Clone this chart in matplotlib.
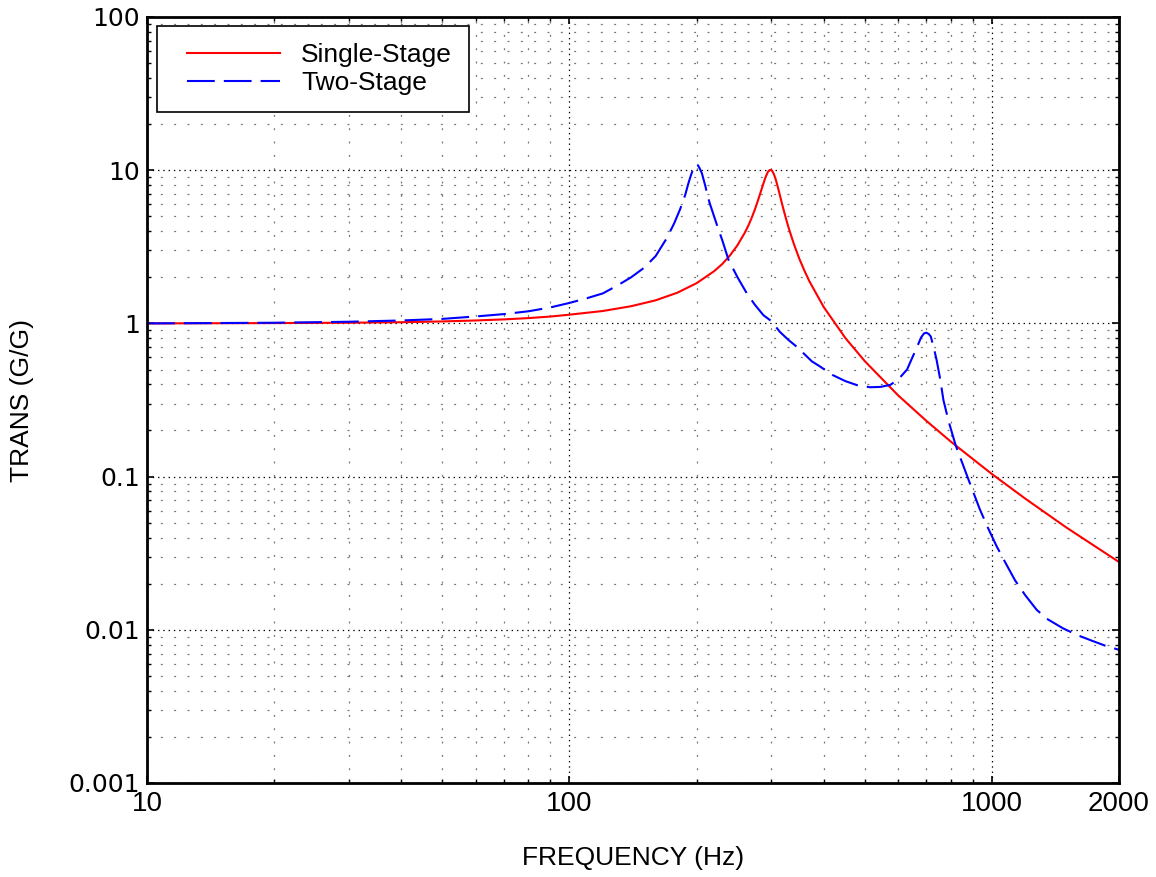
import matplotlib
matplotlib.use("Agg")
import matplotlib.pyplot as plt
from matplotlib.ticker import LogLocator, NullFormatter, FixedLocator, FixedFormatter
from matplotlib.legend_handler import HandlerLine2D
from matplotlib.lines import Line2D

# ---- data ----
freq_single = [10, 20, 30, 40, 50, 60, 70, 80, 90, 100, 120, 140, 160, 180, 200,
               220, 230, 240, 250, 260, 265, 270, 275, 280, 285, 290, 292, 295,
               298, 300, 302, 305, 308, 310, 312, 315, 320, 325, 330, 340, 350,
               360, 370, 400, 450, 500, 600, 700, 800, 1000, 1200, 1500, 2000]
trans_single = [1.00, 1.005, 1.01, 1.018, 1.03, 1.045, 1.062, 1.083, 1.108, 1.14,
                1.205, 1.295, 1.415, 1.585, 1.83, 2.19, 2.44, 2.78, 3.24, 3.90,
                4.33, 4.88, 5.57, 6.45, 7.50, 8.70, 9.15, 9.75, 10.03, 10.05,
                9.90, 9.39, 8.67, 8.14, 7.61, 6.85, 5.77, 4.92, 4.24, 3.29, 2.65,
                2.21, 1.88, 1.278, 0.803, 0.568, 0.339, 0.231, 0.169, 0.104,
                0.0718, 0.0466, 0.0277]

freq_two = [10, 20, 30, 40, 50, 60, 70, 80, 90, 100, 110, 120, 130, 140, 150, 160,
            170, 177, 183, 188, 191, 194, 197, 199, 200, 201, 203, 206, 208, 210,
            212, 215, 220, 225, 230, 238, 250, 263, 275, 288, 300, 315, 330, 345,
            360, 375, 390, 420, 450, 480, 515, 545, 575, 600, 630, 645, 665, 680,
            691, 700, 710, 717, 730, 740, 755, 768, 790, 821, 850, 880, 937, 980,
            1027, 1080, 1134, 1200, 1277, 1350, 1476, 1600, 1723, 1850, 2000]
trans_two = [1.00, 1.01, 1.025, 1.045, 1.07, 1.11, 1.15, 1.20, 1.27, 1.36, 1.46,
             1.57, 1.77, 2.0, 2.3, 2.75, 3.6, 4.5, 5.6, 6.9, 8.1, 9.3, 10.4,
             10.85, 10.95, 10.85, 10.4, 9.5, 8.6, 7.8, 6.9, 6.05, 5.0, 4.15, 3.5,
             2.6, 2.0, 1.57, 1.32, 1.13, 1.04, 0.88, 0.78, 0.705, 0.63, 0.565,
             0.528, 0.46, 0.42, 0.395, 0.383, 0.385, 0.397, 0.43, 0.50, 0.58,
             0.70, 0.81, 0.86, 0.87, 0.85, 0.82, 0.68, 0.577, 0.43, 0.316, 0.23,
             0.16, 0.124, 0.096, 0.061, 0.046, 0.035, 0.027, 0.0211, 0.0168,
             0.0135, 0.0118, 0.0102, 0.0092, 0.0085, 0.0079, 0.0074]

x_ticks = [10, 100, 1000, 2000]
x_tick_labels = ["10", "100", "1000", "2000"]
y_ticks = [0.001, 0.01, 0.1, 1, 10, 100]
y_tick_labels = ["0.001", "0.01", "0.1", "1", "10", "100"]
series_labels = ["Single-Stage", "Two-Stage"]

plt.rcParams["lines.scale_dashes"] = False
plt.rcParams["font.family"] = ["Liberation Sans", "DejaVu Sans"]

W, H = 1156, 877
fig = plt.figure(figsize=(W / 100, H / 100), dpi=100)
L, R, T, B = 147, 1119, 17, 783
ax = fig.add_axes([L / W, 1 - B / H, (R - L) / W, (B - T) / H])

ax.set_xscale("log")
ax.set_yscale("log")
ax.set_xlim(10, 2000)
ax.set_ylim(0.001, 100)

ax.plot(freq_single, trans_single, color="#ff0000", lw=1.5, label=series_labels[0],
        zorder=3, solid_joinstyle="round")
ax.plot(freq_two, trans_two, color="#0000ff", lw=1.5, ls=(0, (20, 6.5)),
        label=series_labels[1], zorder=3, dash_joinstyle="round")

# ticks
ax.xaxis.set_major_locator(FixedLocator(x_ticks))
ax.xaxis.set_major_formatter(FixedFormatter(x_tick_labels))
ax.xaxis.set_minor_locator(LogLocator(base=10, subs=range(2, 10), numticks=20))
ax.xaxis.set_minor_formatter(NullFormatter())
ax.yaxis.set_major_locator(FixedLocator(y_ticks))
ax.yaxis.set_major_formatter(FixedFormatter(y_tick_labels))
ax.yaxis.set_minor_locator(LogLocator(base=10, subs=range(2, 10), numticks=20))
ax.yaxis.set_minor_formatter(NullFormatter())

ax.tick_params(which="both", direction="in", top=True, right=True, color="black")
ax.tick_params(which="major", length=5, width=1.2)
ax.tick_params(which="minor", length=3, width=1.0)
ax.tick_params(axis="x", which="major", pad=6)
ax.tick_params(axis="y", which="major", pad=5)

for lab in ax.get_xticklabels():
    lab.set_fontsize(20)
for lab in ax.get_yticklabels():
    lab.set_fontfamily(["DejaVu Sans"])
    lab.set_fontsize(18)

# grid
ax.grid(which="major", color="black", lw=0.9, ls=(0, (1.0, 2.8)))
ax.grid(which="minor", color="#777777", lw=0.9, ls=(0, (1.4, 8.2)))
ax.set_axisbelow(True)

for s in ax.spines.values():
    s.set_linewidth(2.0)
    s.set_zorder(5)

ax.set_xlabel("FREQUENCY (Hz)", fontsize=19, va="center")
ax.xaxis.set_label_coords(0.5, -(858 - B) / (B - T))
ax.set_ylabel("TRANS (G/G)", fontsize=19, va="center")
ax.yaxis.set_label_coords(-(L - 22) / (R - L), 0.5)

fs = 19
px_per_em = fs * 100 / 72
leg = ax.legend(loc="upper left",
                bbox_to_anchor=(10 / (R - L), 1 - 9 / (B - T)),
                borderaxespad=0, fontsize=fs, frameon=True, fancybox=False,
                framealpha=1, edgecolor="black", borderpad=0.64,
                handlelength=(93 + 13) / px_per_em,
                handletextpad=21 / px_per_em, labelspacing=0.17,
                handler_map={Line2D: HandlerLine2D(xpad=13 / px_per_em)})
leg.get_frame().set_linewidth(1.2)
leg.set_zorder(6)

fig.savefig("out.png", dpi=100)
